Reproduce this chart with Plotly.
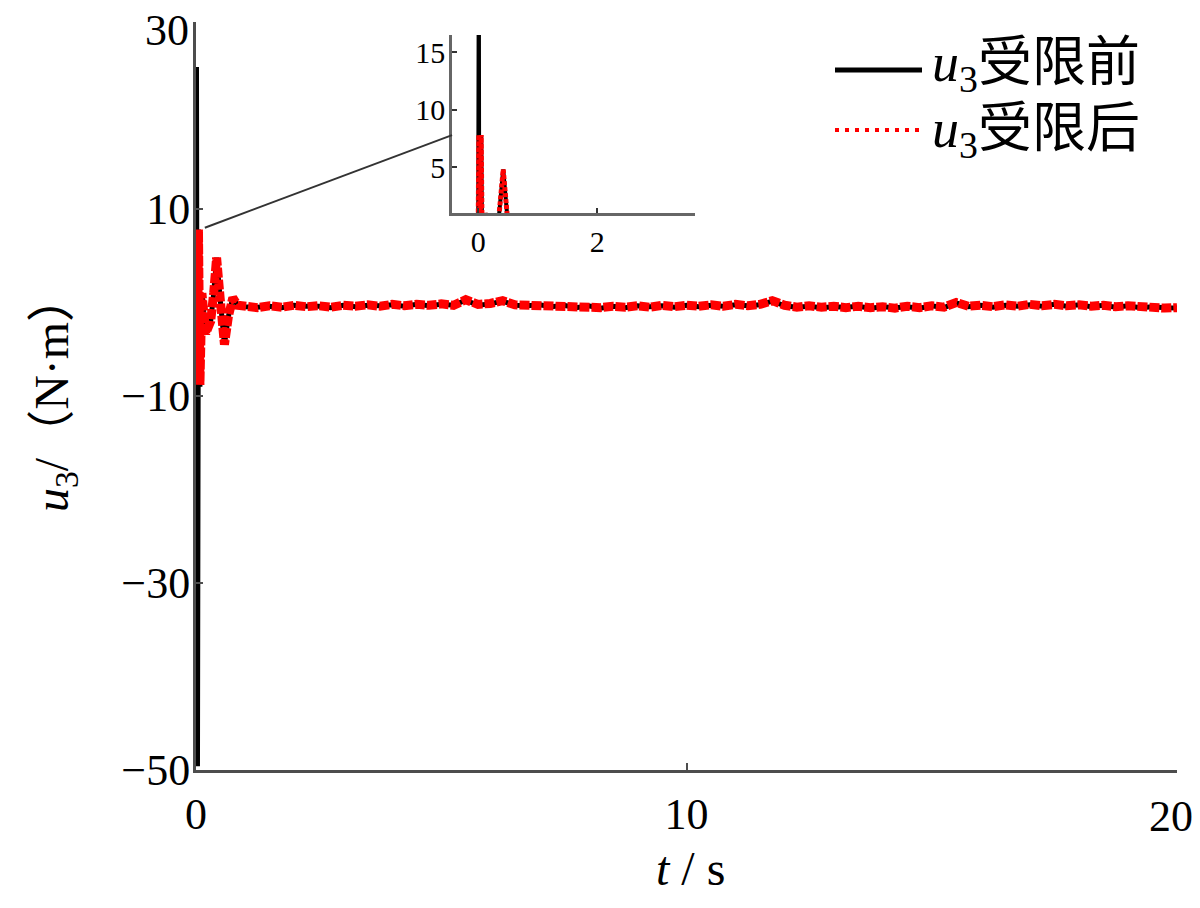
import plotly.graph_objects as go

# ---------------- data ----------------
# transient part (t in s, u3 in N·m)
t_trans = [0.0, 0.01, 0.03, 0.05, 0.08, 0.12, 0.20, 0.30, 0.36, 0.42, 0.50, 0.58, 0.66, 0.75, 0.85]
u_before_trans = [0.0, 25.2, -49.6, 7.8, -9.0, 1.0, -3.3, -2.0, 1.0, 4.8, 0.0, -4.5, -1.5, 0.5, -0.3]
u_after_trans = [0.0, 7.8, -8.8, 7.8, -8.8, 1.0, -3.3, -2.0, 1.0, 4.8, 0.0, -4.5, -1.5, 0.5, -0.3]

# steady part
t_steady = [1.0, 1.25, 1.5, 1.75, 2.0, 2.25, 2.5, 2.75, 3.0, 3.25, 3.5, 3.75, 4.0, 4.25, 4.5, 4.75,
            5.0, 5.25, 5.5, 5.75, 6.0, 6.25, 6.5, 6.75, 7.0, 7.25, 7.5, 7.75, 8.0, 8.25, 8.5, 8.75,
            9.0, 9.25, 9.5, 9.75, 10.0, 10.25, 10.5, 10.75, 11.0, 11.25, 11.5, 11.75, 12.0, 12.25,
            12.5, 12.75, 13.0, 13.25, 13.5, 13.75, 14.0, 14.25, 14.5, 14.75, 15.0, 15.25, 15.5,
            15.75, 16.0, 16.25, 16.5, 16.75, 17.0, 17.25, 17.5, 17.75, 18.0, 18.25, 18.5, 18.75,
            19.0, 19.25, 19.5, 19.75, 20.0]
u_after_steady = [-0.4, -0.55, -0.35, -0.5, -0.3, -0.45, -0.35, -0.5, -0.3, -0.4, -0.25, -0.4,
                  -0.2, -0.35, -0.2, -0.3, -0.15, -0.3, 0.3, -0.2, -0.1, 0.2, -0.25, -0.3,
                  -0.2, -0.4, -0.3, -0.5, -0.35, -0.55, -0.4, -0.5, -0.35, -0.5, -0.3, -0.45,
                  -0.3, -0.4, -0.25, -0.4, -0.2, -0.35, -0.2, 0.2, -0.3, -0.5, -0.35, -0.5,
                  -0.4, -0.55, -0.4, -0.55, -0.45, -0.6, -0.4, -0.55, -0.35, -0.5, 0.0, -0.4,
                  -0.3, -0.45, -0.25, -0.4, -0.2, -0.35, -0.2, -0.35, -0.25, -0.4, -0.3, -0.45,
                  -0.35, -0.5, -0.45, -0.6, -0.55]
u_before_steady = [-0.45, -0.5, -0.4, -0.55, -0.3, -0.4, -0.4, -0.55, -0.3, -0.45, -0.3, -0.35,
                   -0.25, -0.4, -0.2, -0.35, -0.2, -0.3, 0.25, -0.3, -0.15, 0.15, -0.3, -0.35,
                   -0.25, -0.45, -0.3, -0.55, -0.35, -0.6, -0.4, -0.55, -0.35, -0.45, -0.35, -0.5,
                   -0.3, -0.45, -0.3, -0.4, -0.25, -0.35, -0.25, 0.15, -0.35, -0.5, -0.4, -0.55,
                   -0.45, -0.5, -0.4, -0.6, -0.45, -0.55, -0.45, -0.6, -0.35, -0.55, -0.05, -0.45,
                   -0.3, -0.5, -0.3, -0.4, -0.25, -0.4, -0.2, -0.4, -0.25, -0.45, -0.3, -0.5,
                   -0.35, -0.55, -0.45, -0.55, -0.6]

t_all = t_trans + t_steady
u_before = u_before_trans + u_before_steady
u_after = u_after_trans + u_after_steady

series_names = ["<i>u</i><sub>3</sub>受限前", "<i>u</i><sub>3</sub>受限后"]
x_ticks = [0, 10, 20]
y_ticks = [-50, -30, -10, 10, 30]
inset_x_ticks = [0, 2]
inset_y_ticks = [5, 10, 15]

FONT = "Liberation Serif, Noto Sans CJK SC, serif"
CJK = "Liberation Serif, Noto Sans CJK SC"
AX = "#4d4d4d"


def fmt(v):
    return ("\u2212" + str(-v)) if v < 0 else str(v)


fig = go.Figure()

# main traces
fig.add_trace(go.Scatter(x=t_all, y=u_before, mode="lines", name=series_names[0],
                         line=dict(color="black", width=5), showlegend=False))
fig.add_trace(go.Scatter(x=t_all, y=u_after, mode="lines", name=series_names[1],
                         line=dict(color="#ff0000", width=9, dash="10px,2px"), showlegend=False))
# inset traces
fig.add_trace(go.Scatter(x=t_all, y=u_before, mode="lines", xaxis="x2", yaxis="y2",
                         line=dict(color="black", width=4), showlegend=False))
fig.add_trace(go.Scatter(x=t_all, y=u_after, mode="lines", xaxis="x2", yaxis="y2",
                         line=dict(color="#ff0000", width=5, dash="4px,2px"), showlegend=False))

# page has an 8px body margin: figure is drawn 8px in from the top-left
W, H = 1184, 892
L, R, T, B = 188, 15, 14, 130
PW, PH = 981, 748


def px(xp):  # reference-image x pixel -> paper
    return (xp - 196) / PW


def py(yp):  # reference-image y pixel -> paper
    return (770 - yp) / PH


# edge tick labels (20 on x, 30 on y) are placed as annotations so they stay inside the page
x_ticktext = [str(v) if v != x_ticks[-1] else "" for v in x_ticks]
y_ticktext = [fmt(v) if v != y_ticks[-1] else "" for v in y_ticks]

fig.update_layout(
    width=W, height=H,
    margin=dict(l=L, r=R, t=T, b=B, autoexpand=False),
    paper_bgcolor="white", plot_bgcolor="white",
    font=dict(family=FONT, size=44, color="black"),
    xaxis=dict(range=[0, 20], tickvals=x_ticks, ticktext=x_ticktext,
               showgrid=False, zeroline=False, showline=True, linecolor=AX, linewidth=3,
               ticks="inside", ticklen=7, tickwidth=2, tickcolor=AX, ticklabeloverflow="allow",
               automargin=False, tickfont=dict(family=FONT, size=44), ticklabelstandoff=3),
    yaxis=dict(range=[-50, 30], tickvals=y_ticks, ticktext=y_ticktext,
               showgrid=False, zeroline=False, showline=True, linecolor=AX, linewidth=3,
               ticks="inside", ticklen=7, tickwidth=2, tickcolor=AX, ticklabeloverflow="allow",
               automargin=False, tickfont=dict(family=FONT, size=44), ticklabelstandoff=-6),
    xaxis2=dict(domain=[px(452), px(695)], anchor="y2", range=[-0.44, 3.64],
                tickvals=inset_x_ticks, showgrid=False, zeroline=False, showline=True,
                linecolor="#666666", linewidth=2.5, ticks="inside", ticklen=5, tickwidth=2,
                tickcolor="#333333", tickfont=dict(family=FONT, size=30), ticklabelstandoff=0),
    yaxis2=dict(domain=[py(213), py(35)], anchor="x2", range=[1.0, 16.5],
                tickvals=inset_y_ticks, showgrid=False, zeroline=False, showline=True,
                linecolor="#666666", linewidth=2.5, ticks="inside", ticklen=5, tickwidth=2,
                tickcolor="#333333", tickfont=dict(family=FONT, size=30), ticklabelstandoff=-2),
)

fig.add_annotation(x=px(1171), y=py(816), xref="paper", yref="paper", xanchor="center",
                   yanchor="middle", showarrow=False, text=str(x_ticks[-1]),
                   font=dict(family=FONT, size=44, color="black"))
fig.add_annotation(x=px(191), y=py(30), xref="paper", yref="paper", xanchor="right",
                   yanchor="middle", showarrow=False, text=fmt(y_ticks[-1]),
                   font=dict(family=FONT, size=44, color="black"))

# connector line from the main curve to the inset
fig.add_shape(type="line", xref="x", yref="y", x0=0.18, y0=8.0, x1=5.22, y1=17.9,
              line=dict(color="#333333", width=2))

# manual legend
leg_x0, leg_x1 = px(835), px(922)
fig.add_shape(type="line", xref="paper", yref="paper", x0=leg_x0, x1=leg_x1,
              y0=py(70), y1=py(70), line=dict(color="black", width=5))
fig.add_shape(type="line", xref="paper", yref="paper", x0=leg_x0, x1=leg_x1,
              y0=py(130), y1=py(130), line=dict(color="#ff0000", width=4, dash="4px,6px"))
fig.add_annotation(x=px(930), y=py(66), xref="paper", yref="paper", xanchor="left",
                   yanchor="middle", showarrow=False, text=series_names[0],
                   font=dict(family=CJK, size=54, color="black"))
fig.add_annotation(x=px(930), y=py(132), xref="paper", yref="paper", xanchor="left",
                   yanchor="middle", showarrow=False, text=series_names[1],
                   font=dict(family=CJK, size=54, color="black"))

# axis titles
fig.add_annotation(x=px(55), y=py(393), xref="paper", yref="paper", xanchor="center",
                   yanchor="middle", showarrow=False, textangle=-90,
                   text="<i>u</i><sub>3</sub>/（N·m）",
                   font=dict(family=CJK, size=48, color="black"))
fig.add_annotation(x=px(690), y=py(868), xref="paper", yref="paper", xanchor="center",
                   yanchor="middle", showarrow=False,
                   text="<i>t</i> / s", font=dict(family=FONT, size=48, color="black"))

fig.write_html("out.html")
